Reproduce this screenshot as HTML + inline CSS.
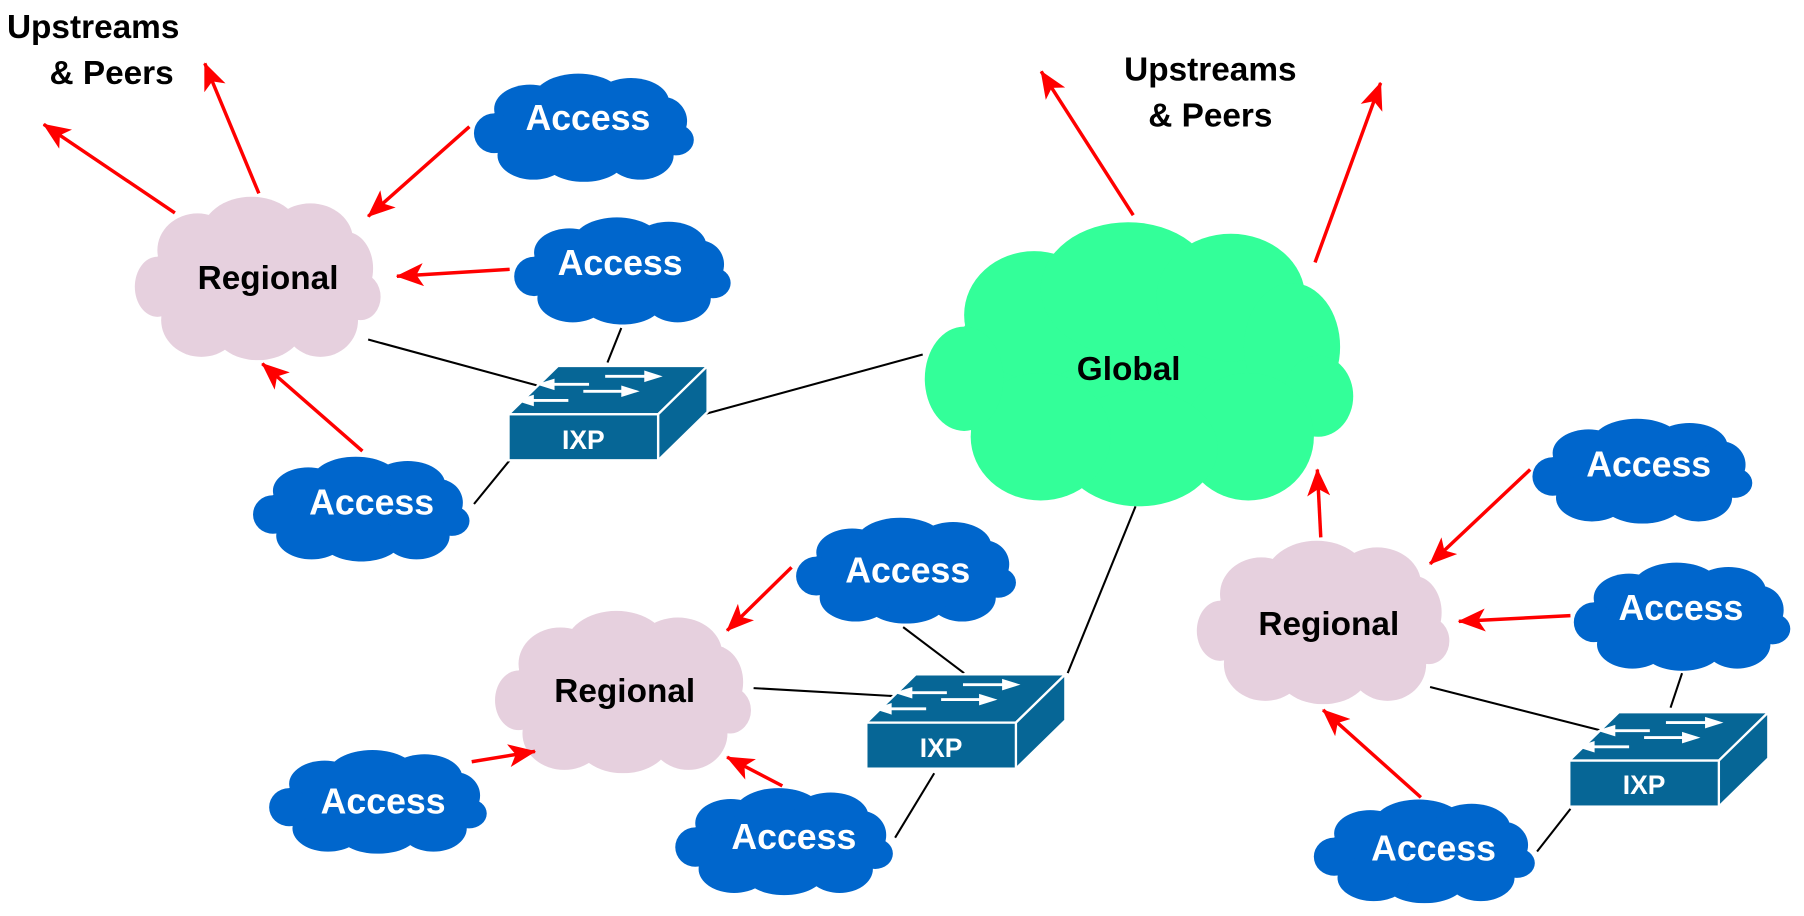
<!DOCTYPE html>
<html><head><meta charset="utf-8"><style>
html,body{margin:0;padding:0;background:#fff;}
svg{display:block;}
text{font-family:"Liberation Sans",Arial,sans-serif;font-weight:bold;}
</style></head><body>
<svg width="1804" height="916" viewBox="0 0 1568 796" xmlns="http://www.w3.org/2000/svg">
<defs>
<symbol id="cloud" viewBox="0 0 200 100" preserveAspectRatio="none">
<ellipse cx="100" cy="52" rx="86" ry="38"/>
<ellipse cx="52" cy="34" rx="32" ry="22"/>
<ellipse cx="95" cy="25" rx="40" ry="23"/>
<ellipse cx="142" cy="28" rx="34" ry="22"/>
<ellipse cx="170" cy="45" rx="22" ry="22"/>
<ellipse cx="182" cy="62" rx="16" ry="14"/>
<ellipse cx="150" cy="76" rx="30" ry="22"/>
<ellipse cx="100" cy="80" rx="36" ry="20"/>
<ellipse cx="55" cy="76" rx="32" ry="22"/>
<ellipse cx="20" cy="56" rx="18" ry="18"/>
</symbol>
<marker id="arr" viewBox="0 0 24 20" refX="23" refY="10" markerWidth="24" markerHeight="20" orient="auto" markerUnits="userSpaceOnUse">
<path d="M0,0 L24,10 L0,20 L6,10 Z" fill="#ff0000"/>
</marker>
<symbol id="sw" viewBox="0 0 175 86" overflow="visible">
<polygon points="0,44 43,2 173,2 130,44" fill="#066696" stroke="#fff" stroke-width="2"/>
<polygon points="130,44 173,2 173,42 130,84" fill="#066696" stroke="#fff" stroke-width="2"/>
<rect x="0" y="44" width="130" height="40" fill="#066696" stroke="#fff" stroke-width="2"/>
<g fill="#fff" stroke="#fff" stroke-width="2.5">
<line x1="84" y1="11" x2="120" y2="11"/><polygon points="118,6 134,11 118,16" stroke="none"/>
<line x1="65" y1="24" x2="100" y2="24"/><polygon points="98,19 114,24 98,29" stroke="none"/>
<line x1="70" y1="18" x2="38" y2="18"/><polygon points="40,13 24,18 40,23" stroke="none"/>
<line x1="52" y1="32" x2="20" y2="32"/><polygon points="22,27 6,32 22,37" stroke="none"/>
</g>
</symbol>
</defs>

<g stroke="#000" stroke-width="1.8">
<line x1="320" y1="295" x2="467" y2="335"/>
<line x1="540" y1="285" x2="528" y2="315"/>
<line x1="412" y1="438" x2="443" y2="400"/>
<line x1="612" y1="360" x2="802" y2="308"/>
<line x1="987" y1="440" x2="928" y2="585"/>
<line x1="785" y1="545" x2="838" y2="585"/>
<line x1="655" y1="598" x2="778" y2="605"/>
<line x1="778" y1="728" x2="812" y2="672"/>
<line x1="1243" y1="597" x2="1392" y2="635"/>
<line x1="1462" y1="585" x2="1452" y2="615"/>
<line x1="1336" y1="740" x2="1365" y2="703"/>
</g>

<g fill="#e6d0de">
<use href="#cloud" x="115" y="168" width="218" height="145"/>
<use href="#cloud" x="428" y="528" width="227" height="144"/>
<use href="#cloud" x="1038" y="467" width="224" height="145"/>
</g>
<use href="#cloud" x="800" y="188" width="380" height="252" fill="#33ff99"/>
<g fill="#0066cc">
<use href="#cloud" x="410" y="62" width="195" height="96"/>
<use href="#cloud" x="445" y="187" width="192" height="95"/>
<use href="#cloud" x="218" y="395" width="192" height="93"/>
<use href="#cloud" x="690" y="448" width="195" height="94"/>
<use href="#cloud" x="232" y="650" width="193" height="92"/>
<use href="#cloud" x="585" y="683" width="193" height="95"/>
<use href="#cloud" x="1330" y="362" width="195" height="93"/>
<use href="#cloud" x="1366" y="487" width="192" height="96"/>
<use href="#cloud" x="1140" y="693" width="196" height="92"/>
</g>

<use href="#sw" x="442" y="316" width="175" height="86"/>
<use href="#sw" x="753" y="584" width="175" height="86"/>
<use href="#sw" x="1364" y="617" width="175" height="86"/>

<g stroke="#ff0000" stroke-width="3" marker-end="url(#arr)">
<line x1="152" y1="185" x2="38" y2="108"/>
<line x1="225" y1="168" x2="178" y2="55"/>
<line x1="408" y1="110" x2="320" y2="188"/>
<line x1="443" y1="234" x2="345" y2="240"/>
<line x1="315" y1="392" x2="228" y2="316"/>
<line x1="985" y1="187" x2="905" y2="62"/>
<line x1="1143" y1="228" x2="1200" y2="72"/>
<line x1="1148" y1="467" x2="1145" y2="408"/>
<line x1="1330" y1="408" x2="1243" y2="490"/>
<line x1="1365" y1="535" x2="1268" y2="540"/>
<line x1="1235" y1="693" x2="1150" y2="617"/>
<line x1="688" y1="493" x2="632" y2="548"/>
<line x1="410" y1="662" x2="465" y2="653"/>
<line x1="680" y1="683" x2="632" y2="658"/>
</g>

<g font-size="29" text-anchor="middle">
<text x="81" y="33">Upstreams</text>
<text x="97" y="73">&amp; Peers</text>
<text x="1052" y="70">Upstreams</text>
<text x="1052" y="110">&amp; Peers</text>
<text x="233" y="251">Regional</text>
<text x="543" y="610">Regional</text>
<text x="1155" y="552">Regional</text>
<text x="981" y="330">Global</text>
</g>
<g font-size="31" text-anchor="middle" fill="#fff">
<text x="511" y="113">Access</text>
<text x="539" y="239">Access</text>
<text x="323" y="447">Access</text>
<text x="789" y="506">Access</text>
<text x="333" y="707">Access</text>
<text x="690" y="738">Access</text>
<text x="1433" y="414">Access</text>
<text x="1461" y="539">Access</text>
<text x="1246" y="748">Access</text>
</g>
<g font-size="23" text-anchor="middle" fill="#fff">
<text x="507" y="390">IXP</text>
<text x="818" y="658">IXP</text>
<text x="1429" y="690">IXP</text>
</g>
</svg>
</body></html>
